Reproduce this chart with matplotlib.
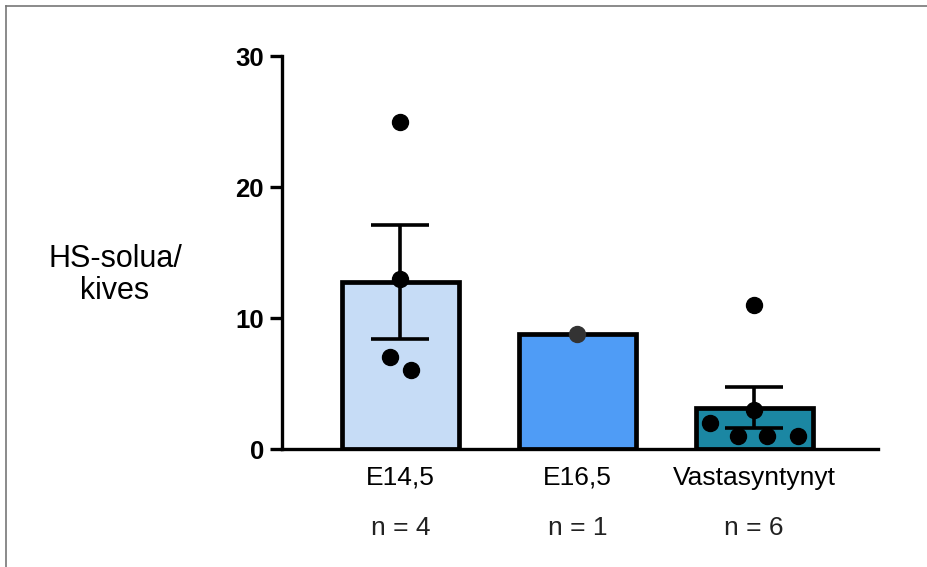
import numpy as np
import matplotlib.pyplot as plt
from matplotlib.lines import Line2D

categories = ["E14,5", "E16,5", "Vastasyntynyt"]
n_labels = ["n = 4", "n = 1", "n = 6"]
points = [
    [25, 13, 7, 6],
    [8.8],
    [11, 3, 2, 1, 1, 1],
]
# horizontal scatter of the dots inside each bar (category units)
jitter = [
    [0.0, 0.0, -0.057, 0.057],
    [0.0],
    [0.0, 0.0, -0.25, -0.09, 0.074, 0.25],
]
colors = ["#c6dcf6", "#4f9cf6", "#1b87a3"]
dot_colors = ["black", "#333333", "black"]

plt.rcParams['font.family'] = ['Liberation Sans', 'DejaVu Sans']

fig = plt.figure(figsize=(9.27, 5.67), dpi=100)
ax = fig.add_axes([0.3042, 0.2081, 0.6430, 0.6931])

x = np.arange(len(categories))
means = [np.mean(p) for p in points]
sems = [np.std(p, ddof=1) / np.sqrt(len(p)) if len(p) > 1 else 0 for p in points]

ax.bar(x, means, width=0.66, color=colors, edgecolor="black", linewidth=3.4, zorder=2)
for i in range(len(categories)):
    if sems[i] > 0:
        ax.errorbar(x[i], means[i], yerr=sems[i], fmt="none", ecolor="black",
                    elinewidth=2.6, capsize=21, capthick=2.6, zorder=3)
    ax.plot(x[i] + np.array(jitter[i]), points[i], "o", color=dot_colors[i],
            markersize=11.5, zorder=4, clip_on=False)

ax.set_xlim(-0.67, 2.7)
ax.set_ylim(0, 30)
ax.set_yticks([0, 10, 20, 30])
ax.spines["top"].set_visible(False)
ax.spines["right"].set_visible(False)
ax.spines["left"].set_linewidth(2.4)
ax.spines["bottom"].set_linewidth(2.4)
ax.tick_params(axis="y", length=9, width=2.4, labelsize=18.5, pad=4)
for lab in ax.get_yticklabels():
    lab.set_fontweight("bold")
ax.set_xticks(x)
ax.set_xticklabels(categories, fontsize=19)
ax.tick_params(axis="x", length=0, pad=12)

for i, t in enumerate(n_labels):
    ax.text(x[i], -0.2, t, transform=ax.get_xaxis_transform(), ha="center",
            va="center", fontsize=19, color="#222222")

fig.text(0.124, 0.515, "HS-solua/\nkives", ha="center", va="center",
         multialignment="center", fontsize=22, linespacing=1.1)

# thin screenshot frame on the top and left edges
fig.add_artist(Line2D([0.0065, 1.0], [0.989, 0.989], color="#777777", lw=1.2,
                      transform=fig.transFigure))
fig.add_artist(Line2D([0.0065, 0.0065], [0.0, 0.989], color="#777777", lw=1.2,
                      transform=fig.transFigure))

fig.savefig("out.png", dpi=100)
